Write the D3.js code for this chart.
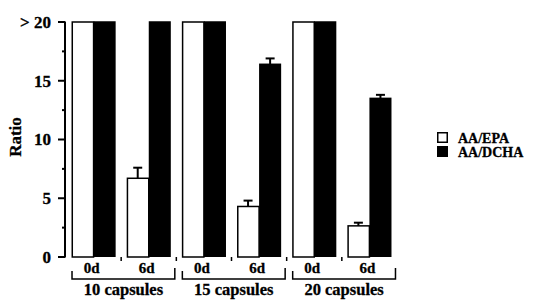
<!DOCTYPE html>
<html>
<head>
<meta charset="utf-8">
<script src="https://cdn.jsdelivr.net/npm/d3@7"></script>
<style>
  body { margin: 0; background: #fff; }
  text { font-family: "Liberation Serif", "Times New Roman", serif; font-weight: bold; fill: #000; stroke: #000; stroke-width: 0.3px; }
</style>
</head>
<body>
<div id="graph"></div>
<script>
var groups = ["10 capsules", "15 capsules", "20 capsules"];
var days = ["0d", "6d"];
var series = ["AA/EPA", "AA/DCHA"];
// ">20" values are drawn at the top of the axis (20)
var epa = [20, 6.7, 20, 4.3, 20, 2.65];
var epaErr = [0, 0.9, 0, 0.5, 0, 0.27];
var dcha = [20, 20, 20, 16.4, 20, 13.5];
var dchaErr = [0, 0, 0, 0.5, 0, 0.3];
var yTicks = [0, 5, 10, 15, 20];
var yTickLabels = ["0", "5", "10", "15", "> 20"];
var yMinor = [2.5, 7.5, 12.5, 17.5];

var w = 551, h = 303;
var slots = [];
groups.forEach(function(g, gi) {
  days.forEach(function(d, di) { slots.push(gi * days.length + di); });
});

var x = d3.scaleBand().domain(slots).range([66, 397]).paddingInner(0.2).paddingOuter(0.1);
var y = d3.scaleLinear().domain([0, 20]).range([257, 22]);
var bw = x.bandwidth() / 2;

var svg = d3.select("#graph").append("svg")
  .attr("width", w)
  .attr("height", h);

// y axis
var yAxis = svg.append("g").attr("transform", "translate(65,0)");
yAxis.append("line")
  .attr("x1", 0).attr("x2", 0)
  .attr("y1", y(0) + 0.5).attr("y2", y(20) - 0.5)
  .attr("stroke", "#000").attr("stroke-width", 2);
yAxis.selectAll(".major").data(yTicks).enter().append("line")
  .attr("x1", -7).attr("x2", 0)
  .attr("y1", function(d) { return y(d); })
  .attr("y2", function(d) { return y(d); })
  .attr("stroke", "#000").attr("stroke-width", 2);
yAxis.selectAll(".minor").data(yMinor).enter().append("line")
  .attr("x1", -3).attr("x2", 0)
  .attr("y1", function(d) { return y(d); })
  .attr("y2", function(d) { return y(d); })
  .attr("stroke", "#000").attr("stroke-width", 2);
yAxis.selectAll(".lab").data(yTicks).enter().append("text")
  .attr("x", -14)
  .attr("y", function(d) { return y(d); })
  .attr("dy", "0.35em")
  .attr("text-anchor", "end")
  .style("font-size", "17px")
  .text(function(d, i) { return yTickLabels[i]; });

svg.append("text")
  .attr("transform", "translate(21,137) rotate(-90)")
  .attr("text-anchor", "middle")
  .style("font-size", "17px")
  .text("Ratio");

// bars
svg.selectAll(".epa").data(epa).enter().append("rect")
  .attr("x", function(d, i) { return x(slots[i]) + 0.75; })
  .attr("y", function(d) { return y(d); })
  .attr("width", bw - 0.75)
  .attr("height", function(d) { return y(0) - y(d); })
  .attr("fill", "#fff")
  .attr("stroke", "#000").attr("stroke-width", 1.5);

svg.selectAll(".dcha").data(dcha).enter().append("rect")
  .attr("x", function(d, i) { return x(slots[i]) + bw; })
  .attr("y", function(d) { return y(d) - 0.75; })
  .attr("width", bw)
  .attr("height", function(d) { return y(0) - y(d) + 0.75; })
  .attr("fill", "#000");

// error bars
function errBars(vals, errs, off) {
  vals.forEach(function(v, i) {
    if (!errs[i]) return;
    var cx = x(slots[i]) + off + bw / 2;
    svg.append("line")
      .attr("x1", cx).attr("x2", cx)
      .attr("y1", y(v)).attr("y2", y(v + errs[i]))
      .attr("stroke", "#000").attr("stroke-width", 2);
    svg.append("line")
      .attr("x1", cx - 4.5).attr("x2", cx + 4.5)
      .attr("y1", y(v + errs[i])).attr("y2", y(v + errs[i]))
      .attr("stroke", "#000").attr("stroke-width", 2);
  });
}
errBars(epa, epaErr, 0);
errBars(dcha, dchaErr, bw);

// x ticks between pairs
var step = x.step();
svg.selectAll(".xt").data(slots.slice(1)).enter().append("line")
  .attr("x1", function(d) { return x(d) - step * 0.1; })
  .attr("x2", function(d) { return x(d) - step * 0.1; })
  .attr("y1", y(0)).attr("y2", y(0) + 4)
  .attr("stroke", "#000").attr("stroke-width", 1.5);

// day labels
svg.selectAll(".day").data(slots).enter().append("text")
  .attr("x", function(d) { return x(d) + x.bandwidth() / 2 - 2; })
  .attr("y", 273)
  .attr("text-anchor", "middle")
  .style("font-size", "15px")
  .text(function(d, i) { return days[i % days.length]; });

// group brackets and labels
groups.forEach(function(g, gi) {
  var x0 = x(slots[gi * 2]) + 0.5;
  var x1 = x(slots[gi * 2 + 1]) + x.bandwidth() + 4;
  svg.append("path")
    .attr("d", "M" + x0 + ",271V279H" + x1 + "V268")
    .attr("fill", "none")
    .attr("stroke", "#000").attr("stroke-width", 1.5);
  svg.append("text")
    .attr("x", (x0 + x1) / 2)
    .attr("y", 295)
    .attr("text-anchor", "middle")
    .style("font-size", "16.5px")
    .text(g);
});

// legend
var legend = svg.append("g").attr("transform", "translate(437,132)");
series.forEach(function(s, i) {
  legend.append("rect")
    .attr("x", 0.75).attr("y", i * 14 + 0.75)
    .attr("width", 9.5).attr("height", 9.5)
    .attr("fill", i === 0 ? "#fff" : "#000")
    .attr("stroke", "#000").attr("stroke-width", 1.5);
  legend.append("text")
    .attr("x", 21).attr("y", i * 14 + 10.5)
    .style("font-size", "14px")
    .text(s);
});
</script>
</body>
</html>
